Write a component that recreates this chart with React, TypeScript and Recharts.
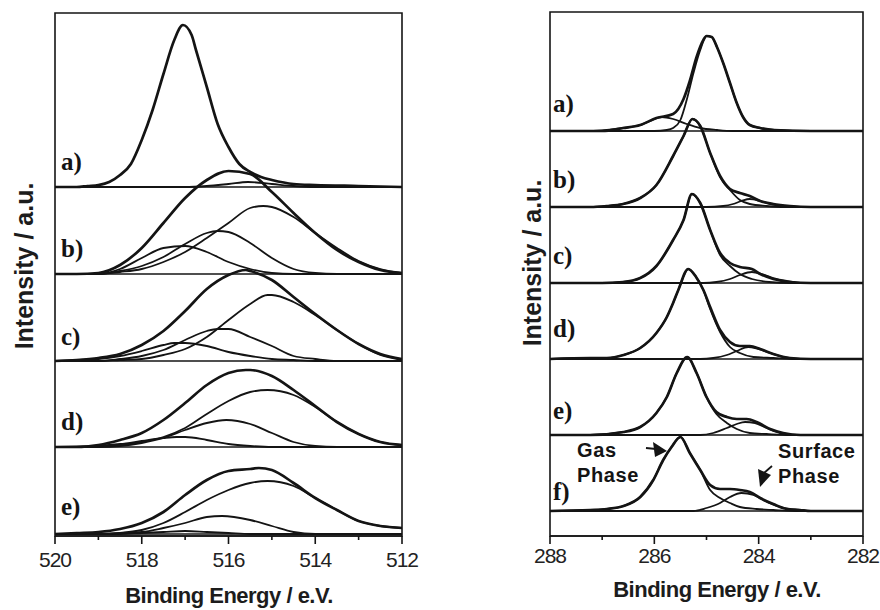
import { LineChart, Line, XAxis, YAxis, ReferenceLine, ReferenceArea } from 'recharts'

type Pt = [number, number]

const INK = '#141414'
const SANS = "'Liberation Sans', Arial, sans-serif"
const SERIF = "'Liberation Serif', 'Times New Roman', serif"

// ---------- left panel: 520 - 512 eV, five spectra (intensity above each baseline, a.u.)
const leftTicks = [520, 519, 518, 517, 516, 515, 514, 513, 512]
const leftNames = ['a)', 'b)', 'c)', 'd)', 'e)']
const leftBaselines = [349, 262, 175, 89, 2]

const leftA_env: Pt[] = [[520, 0], [519.5, 0], [519.25, 1], [519, 2], [518.75, 5], [518.5, 12], [518.25, 23], [518, 47], [517.75, 77], [517.5, 113], [517.25, 147], [517.05, 162], [516.85, 152], [516.75, 137], [516.5, 100], [516.25, 63], [516, 40], [515.75, 23], [515.5, 15], [515.25, 10], [515, 7], [514.5, 3], [514, 2], [513, 1], [512, 0]]
const leftA_c1: Pt[] = [[520, 0], [517, 0], [516.5, 1], [516, 3], [515.55, 5], [515, 3], [514.5, 1], [514, 0], [512, 0]]

const leftB_env: Pt[] = [[520, 0], [519.5, 0], [519, 1], [518.5, 9], [518, 26], [517.5, 51], [517, 76], [516.5, 94], [516, 103], [515.5, 100], [515, 82], [514.5, 61], [514, 41], [513.5, 24], [513, 12], [512.5, 4], [512, 1]]
const leftB_c1: Pt[] = [[520, 0], [519, 0], [518.5, 5], [518, 16], [517.5, 26], [517, 28], [516.5, 22], [516, 12], [515.5, 5], [515, 1], [514.5, 0], [512, 0]]
const leftB_c2: Pt[] = [[520, 0], [519, 0], [518.5, 3], [518, 8], [517.5, 17], [517, 30], [516.5, 41], [516.25, 43], [516, 42], [515.5, 31], [515, 16], [514.5, 5], [514, 1], [513.5, 0], [512, 0]]
const leftB_c3: Pt[] = [[520, 0], [519, 0], [518.5, 2], [518, 5], [517.5, 12], [517, 22], [516.5, 36], [516, 51], [515.5, 66], [515.2, 68], [515, 67], [514.5, 57], [514, 41], [513.5, 26], [513, 13], [512.5, 5], [512, 1]]

const leftC_env: Pt[] = [[520, 0], [519.5, 1], [519, 3], [518.5, 7], [518, 16], [517.5, 30], [517, 50], [516.5, 72], [516, 86], [515.6, 91], [515.5, 90], [515, 81], [514.5, 64], [514, 47], [513.5, 31], [513, 17], [512.5, 7], [512, 2]]
const leftC_c1: Pt[] = [[520, 0], [519.5, 1], [519, 2], [518.5, 5], [518, 10], [517.5, 16], [517.25, 18], [517, 18], [516.5, 15], [516, 9], [515.5, 5], [515, 2], [514.5, 1], [514, 0], [512, 0]]
const leftC_c2: Pt[] = [[520, 0], [519, 0], [518.5, 2], [518, 5], [517.5, 11], [517, 21], [516.5, 30], [516.25, 32], [516, 32], [515.5, 24], [515, 15], [514.5, 5], [514, 2], [513.5, 0], [512, 0]]
const leftC_c3: Pt[] = [[520, 0], [519, 0], [518.5, 1], [518, 2], [517.5, 6], [517, 12], [516.5, 24], [516, 41], [515.5, 57], [515.1, 66], [515, 66], [514.5, 59], [514, 46], [513.5, 31], [513, 17], [512.5, 6], [512, 1]]

const leftD_env: Pt[] = [[520, 0], [519.5, 0], [519, 2], [518.5, 7], [518, 14], [517.5, 27], [517, 44], [516.5, 62], [516, 74], [515.6, 77], [515.5, 77], [515, 71], [514.5, 57], [514, 41], [513.5, 25], [513, 13], [512.5, 5], [512, 2]]
const leftD_c1: Pt[] = [[520, 0], [519.5, 0], [519, 1], [518.5, 3], [518, 6], [517.5, 9], [517.2, 10], [517, 10], [516.5, 7], [516, 3], [515.5, 1], [515, 0], [512, 0]]
const leftD_c2: Pt[] = [[520, 0], [519, 0], [518.5, 1], [518, 4], [517.5, 9], [517, 17], [516.5, 24], [516.05, 27], [515.5, 23], [515, 14], [514.5, 5], [514, 1], [513.5, 0], [512, 0]]
const leftD_c3: Pt[] = [[520, 0], [519, 1], [518.5, 2], [518, 5], [517.5, 10], [517, 19], [516.5, 33], [516, 46], [515.5, 55], [515.1, 57], [514.5, 52], [514, 40], [513.5, 25], [513, 13], [512.5, 5], [512, 2]]

const leftE_env: Pt[] = [[520, 0], [519.5, 1], [519, 2], [518.5, 5], [518, 11], [517.5, 22], [517, 39], [516.5, 54], [516, 63], [515.5, 65], [515.3, 66], [515, 64], [514.5, 51], [514, 36], [513.5, 24], [513, 13], [512.5, 8], [512, 6]]
const leftE_c1: Pt[] = [[520, 0], [518.5, 0], [518, 1], [517.5, 2], [517, 3], [516.5, 2], [516, 1], [515.5, 0], [512, 0]]
const leftE_c2: Pt[] = [[520, 0], [519, 0], [518.5, 1], [518, 2], [517.5, 6], [517, 11], [516.5, 17], [516.15, 18], [515.5, 14], [515, 8], [514.5, 2], [514, 0], [512, 0]]
const leftE_c3: Pt[] = [[520, 0], [519, 0], [518.5, 1], [518, 4], [517.5, 11], [517, 22], [516.5, 34], [516, 44], [515.5, 51], [515.1, 53], [514.5, 48], [514, 36], [513.5, 24], [513, 13], [512.5, 8], [512, 6]]

// ---------- right panel: 288 - 282 eV, six spectra
const rightTicks = [288, 287, 286, 285, 284, 283, 282]
const rightNames = ['a)', 'b)', 'c)', 'd)', 'e)', 'f)']
const rightBaselines = [405, 329, 253, 177, 101, 25]

const rightA_env: Pt[] = [[288, 0], [287, 0], [286.6, 3], [286.27, 6], [285.96, 13], [285.64, 17], [285.44, 32], [285.32, 50], [285.19, 74], [285.06, 91], [285, 95], [284.9, 94], [284.8, 84], [284.68, 68], [284.55, 48], [284.42, 28], [284.3, 14], [284.17, 6], [283.97, 3], [283.7, 1], [283, 0], [282, 0]]
const rightA_main: Pt[] = [[288, 0], [286, 0], [285.76, 1], [285.64, 3], [285.5, 11], [285.38, 31], [285.25, 58], [285.12, 81], [285, 95], [284.9, 94], [284.8, 84], [284.68, 68], [284.55, 48], [284.42, 28], [284.3, 14], [284.17, 6], [283.97, 3], [283.7, 1], [283, 0], [282, 0]]
const rightA_side: Pt[] = [[288, 0], [287.23, 0], [286.91, 1], [286.6, 3], [286.27, 6], [286.08, 10], [285.86, 14], [285.64, 12], [285.38, 7], [285.12, 3], [284.8, 1], [284.5, 0], [282, 0]]

const rightB_env: Pt[] = [[288, 0], [287.23, 0], [286.91, 1], [286.6, 3], [286.27, 9], [285.96, 22], [285.64, 51], [285.44, 71], [285.27, 88], [285.12, 81], [284.93, 54], [284.74, 31], [284.55, 18], [284.36, 14], [284.17, 11], [283.97, 6], [283.72, 3], [283.4, 1], [283, 0], [282, 0]]
const rightB_main: Pt[] = [[288, 0], [287.23, 0], [286.91, 1], [286.6, 3], [286.27, 9], [285.96, 22], [285.64, 51], [285.44, 71], [285.27, 88], [285.12, 81], [284.93, 54], [284.74, 30], [284.55, 17], [284.36, 7], [284.17, 3], [283.85, 1], [283.5, 0], [282, 0]]
const rightB_side: Pt[] = [[288, 0], [285, 0], [284.68, 1], [284.49, 3], [284.33, 6], [284.17, 8], [283.97, 6], [283.78, 3], [283.53, 1], [283.2, 0], [282, 0]]

const rightC_env: Pt[] = [[288, 0], [287, 0], [286.6, 1], [286.27, 5], [285.96, 17], [285.64, 43], [285.44, 63], [285.28, 89], [285.12, 80], [284.93, 53], [284.74, 30], [284.55, 20], [284.36, 16], [284.13, 14], [283.97, 9], [283.72, 4], [283.4, 1], [283, 0], [282, 0]]
const rightC_main: Pt[] = [[288, 0], [287, 0], [286.6, 1], [286.27, 5], [285.96, 17], [285.64, 43], [285.44, 63], [285.28, 89], [285.12, 80], [284.93, 53], [284.74, 28], [284.55, 17], [284.36, 9], [284.13, 4], [283.8, 1], [283.4, 0], [282, 0]]
const rightC_side: Pt[] = [[288, 0], [285.06, 0], [284.81, 1], [284.55, 4], [284.36, 8], [284.13, 11], [283.94, 9], [283.72, 5], [283.46, 2], [283.14, 0], [282, 0]]

const rightD_env: Pt[] = [[288, 0], [287.23, 1], [286.91, 1], [286.59, 4], [286.27, 11], [285.96, 26], [285.76, 42], [285.64, 56], [285.54, 69], [285.35, 90], [285.2, 82], [285.06, 69], [284.93, 52], [284.74, 29], [284.55, 17], [284.36, 13], [284.17, 13], [283.97, 10], [283.72, 5], [283.4, 1], [283, 0], [282, 0]]
const rightD_main: Pt[] = [[288, 0], [287.23, 1], [286.91, 1], [286.59, 4], [286.27, 11], [285.96, 26], [285.76, 42], [285.64, 56], [285.54, 69], [285.35, 90], [285.2, 82], [285.06, 69], [284.93, 50], [284.74, 27], [284.55, 12], [284.36, 6], [284.1, 2], [283.72, 1], [283.3, 0], [282, 0]]
const rightD_side: Pt[] = [[288, 0], [285.12, 0], [284.87, 1], [284.61, 4], [284.42, 8], [284.2, 12], [284.01, 10], [283.78, 6], [283.53, 2], [283.2, 0], [282, 0]]

const rightE_env: Pt[] = [[288, 0], [287.23, 0], [286.59, 3], [286.27, 8], [285.96, 22], [285.76, 38], [285.57, 62], [285.37, 78], [285.19, 62], [285, 38], [284.81, 23], [284.61, 18], [284.42, 16], [284.23, 16], [284.04, 13], [283.78, 6], [283.53, 2], [283.2, 0], [282, 0]]
const rightE_main: Pt[] = [[288, 0], [287.23, 0], [286.59, 3], [286.27, 8], [285.96, 22], [285.76, 38], [285.57, 62], [285.37, 78], [285.19, 62], [285, 38], [284.81, 21], [284.61, 12], [284.42, 6], [284.17, 2], [283.85, 1], [283.4, 0], [282, 0]]
const rightE_side: Pt[] = [[288, 0], [285.12, 0], [284.87, 2], [284.61, 7], [284.42, 11], [284.26, 13], [284.07, 12], [283.85, 7], [283.59, 2], [283.27, 0], [282, 0]]

const rightF_env: Pt[] = [[288, 0], [287.23, 1], [286.91, 2], [286.59, 5], [286.27, 14], [286.02, 31], [285.83, 51], [285.67, 64], [285.5, 74], [285.32, 58], [285.12, 41], [284.93, 26], [284.74, 22], [284.55, 22], [284.36, 21], [284.17, 19], [283.97, 13], [283.72, 7], [283.46, 2], [283.21, 1], [283, 0], [282, 0]]
const rightF_main: Pt[] = [[288, 0], [287.23, 1], [286.91, 2], [286.59, 5], [286.27, 14], [286.02, 31], [285.83, 51], [285.67, 64], [285.5, 74], [285.32, 58], [285.12, 41], [284.93, 21], [284.74, 13], [284.55, 8], [284.36, 4], [284.04, 2], [283.72, 1], [283.3, 0], [282, 0]]
const rightF_side: Pt[] = [[288, 0], [285.25, 0], [285, 3], [284.74, 8], [284.55, 14], [284.33, 18], [284.1, 16], [283.88, 10], [283.65, 5], [283.4, 2], [283.08, 0], [282, 0]]

interface Spectrum {
  env: Pt[]
  comps: Pt[][]
}

const leftSpectra: Spectrum[] = [
  { env: leftA_env, comps: [leftA_c1] },
  { env: leftB_env, comps: [leftB_c1, leftB_c2, leftB_c3] },
  { env: leftC_env, comps: [leftC_c1, leftC_c2, leftC_c3] },
  { env: leftD_env, comps: [leftD_c1, leftD_c2, leftD_c3] },
  { env: leftE_env, comps: [leftE_c1, leftE_c2, leftE_c3] },
]

const rightSpectra: Spectrum[] = [
  { env: rightA_env, comps: [rightA_main, rightA_side] },
  { env: rightB_env, comps: [rightB_main, rightB_side] },
  { env: rightC_env, comps: [rightC_main, rightC_side] },
  { env: rightD_env, comps: [rightD_main, rightD_side] },
  { env: rightE_env, comps: [rightE_main, rightE_side] },
  { env: rightF_env, comps: [rightF_main, rightF_side] },
]

const toRows = (pts: Pt[], base: number) => pts.map(([e, v]) => ({ e, y: base + v }))

function makeTick(labelDy: number) {
  return (props: any) => {
    const { x, y, payload } = props
    const major = payload.value % 2 === 0
    return (
      <g>
        <line x1={x} x2={x} y1={y} y2={y + (major ? 8 : 4)} stroke={INK} strokeWidth={1.6} />
        {major && (
          <text x={x} y={y + labelDy} textAnchor="middle" fontFamily={SANS} fontSize={21} letterSpacing={-1} fill="#222">
            {payload.value}
          </text>
        )}
      </g>
    )
  }
}

interface PanelProps {
  left: number
  margin: { top: number; right: number; bottom: number; left: number }
  domain: [number, number]
  ticks: number[]
  yMax: number
  baselines: number[]
  spectra: Spectrum[]
  labelDy: number
}

function Panel({ left, margin, domain, ticks, yMax, baselines, spectra, labelDy }: PanelProps) {
  return (
    <div style={{ position: 'absolute', left, top: 0 }}>
      <LineChart width={440} height={610} margin={margin}>
        <XAxis
          xAxisId="b"
          dataKey="e"
          type="number"
          domain={domain}
          reversed
          allowDataOverflow
          ticks={ticks}
          interval={0}
          tickSize={0}
          tickMargin={0}
          tickLine={false}
          axisLine={{ stroke: INK, strokeWidth: 1.6 }}
          tick={makeTick(labelDy)}
          height={30}
        />
        <YAxis yAxisId="l" type="number" domain={[0, yMax]} allowDataOverflow hide width={0} />
        <ReferenceArea
          xAxisId="b"
          yAxisId="l"
          x1={domain[0]}
          x2={domain[1]}
          y1={0}
          y2={yMax}
          fill="none"
          fillOpacity={0}
          stroke={INK}
          strokeWidth={1.6}
          strokeOpacity={1}
          ifOverflow="visible"
        />
        {baselines.map((b, i) => (
          <ReferenceLine key={'base' + i} xAxisId="b" yAxisId="l" y={b} stroke={INK} strokeWidth={1.6} />
        ))}
        {spectra.map((s, i) =>
          s.comps.map((c, j) => (
            <Line
              key={`c${i}-${j}`}
              data={toRows(c, baselines[i])}
              xAxisId="b"
              yAxisId="l"
              dataKey="y"
              type="monotone"
              dot={false}
              stroke={INK}
              strokeWidth={1.8}
              isAnimationActive={false}
            />
          )),
        )}
        {spectra.map((s, i) => (
          <Line
            key={'env' + i}
            data={toRows(s.env, baselines[i])}
            xAxisId="b"
            yAxisId="l"
            dataKey="y"
            type="monotone"
            dot={false}
            stroke={INK}
            strokeWidth={2.7}
            isAnimationActive={false}
          />
        ))}
      </LineChart>
    </div>
  )
}

const leftLabelY = [170, 257, 345, 430, 515]
const rightLabelY = [112, 188, 264, 337, 419, 500]

export default function App() {
  return (
    <div style={{ position: 'absolute', left: 0, top: 0, width: 880, height: 610, background: '#fff', overflow: 'hidden' }}>
      <Panel
        left={0}
        margin={{ top: 13, right: 38, bottom: 44, left: 55 }}
        domain={[512, 520]}
        ticks={leftTicks}
        yMax={523}
        baselines={leftBaselines}
        spectra={leftSpectra}
        labelDy={31}
      />
      <Panel
        left={440}
        margin={{ top: 12, right: 17, bottom: 44, left: 110 }}
        domain={[282, 288]}
        ticks={rightTicks}
        yMax={524}
        baselines={rightBaselines}
        spectra={rightSpectra}
        labelDy={27}
      />
      <svg width={880} height={610} style={{ position: 'absolute', left: 0, top: 0, pointerEvents: 'none' }}>
        {leftNames.map((n, i) => (
          <text key={'ln' + i} x={61} y={leftLabelY[i]} fontFamily={SERIF} fontWeight="bold" fontSize={25} fill={INK}>
            {n}
          </text>
        ))}
        {rightNames.map((n, i) => (
          <text key={'rn' + i} x={553} y={rightLabelY[i]} fontFamily={SERIF} fontWeight="bold" fontSize={25} fill={INK}>
            {n}
          </text>
        ))}
        <text x={24} y={266} transform="rotate(-90 24 266)" textAnchor="middle" dominantBaseline="central" fontFamily={SANS} fontWeight="bold" fontSize={25} fill="#1c1c1c">
          Intensity / a.u.
        </text>
        <text x={532} y={263} transform="rotate(-90 532 263)" textAnchor="middle" dominantBaseline="central" fontFamily={SANS} fontWeight="bold" fontSize={25} fill="#1c1c1c">
          Intensity / a.u.
        </text>
        <text x={229} y={603} textAnchor="middle" fontFamily={SANS} fontWeight="bold" fontSize={22} letterSpacing={-0.5} fill="#1c1c1c">
          Binding Energy / e.V.
        </text>
        <text x={717} y={597} textAnchor="middle" fontFamily={SANS} fontWeight="bold" fontSize={22} letterSpacing={-0.5} fill="#1c1c1c">
          Binding Energy / e.V.
        </text>
        <g fontFamily={SANS} fontWeight="bold" fontSize={20} letterSpacing={0.6} fill={INK}>
          <text x={577} y={457}>Gas</text>
          <text x={577} y={482}>Phase</text>
          <text x={778} y={458}>Surface</text>
          <text x={778} y={483}>Phase</text>
        </g>
        <line x1={646} y1={448} x2={656} y2={449} stroke={INK} strokeWidth={1.8} />
        <polygon points="653,442 655,457 667,451" fill={INK} />
        <line x1={772} y1={466} x2={764} y2={473} stroke={INK} strokeWidth={1.8} />
        <polygon points="758,469 771,475 760,487" fill={INK} />
      </svg>
    </div>
  )
}
